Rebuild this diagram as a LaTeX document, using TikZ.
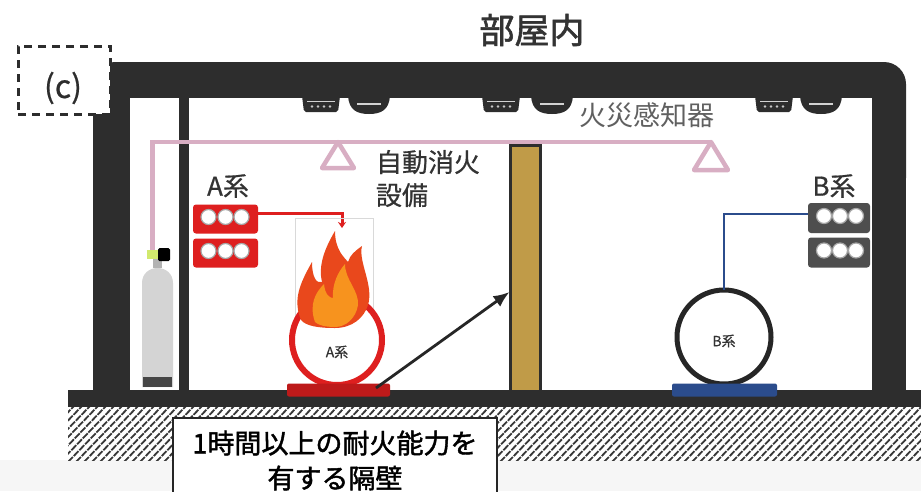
\documentclass[tikz,border=0pt]{standalone}
\usepackage{fontspec}
\newfontfamily\jp{Noto Sans CJK JP}
\newfontfamily\jpb{Noto Sans CJK JP}[FakeBold=1.6]
\newfontfamily\jpm{Noto Sans CJK JP}[FakeBold=0.6]
\usetikzlibrary{arrows.meta,calc}
\newcommand\jfs[1]{\fontsize{#1}{#1}\selectfont}
\definecolor{wallc}{HTML}{2D2D2D}
\definecolor{pinkc}{HTML}{D8AEC3}
\definecolor{goldc}{HTML}{C09B48}
\definecolor{redc}{HTML}{DE1F1F}
\definecolor{bluec}{HTML}{2B4C8C}
\definecolor{flameouter}{HTML}{E9481C}
\definecolor{flameinner}{HTML}{F7931E}
\definecolor{cylc}{HTML}{D4D4D4}
\definecolor{rackb}{HTML}{4E4E4E}
\definecolor{txtc}{HTML}{333333}
\begin{document}
\begin{tikzpicture}[x=1pt,y=-1pt,
  every node/.style={inner sep=0pt,outer sep=0pt},
  racka/.style={rectangle,fill=redc,minimum width=65pt,minimum height=29pt,rounded corners=3pt},
  rackbx/.style={rectangle,fill=rackb,minimum width=62pt,minimum height=30pt,rounded corners=3pt},
  bottle/.style={draw=gray!70,fill=white,line width=1.2pt},
  pipe/.style={pinkc,line width=4.5pt},
  detbody/.style={fill=wallc},
  detline/.style={draw=gray!35,line width=1.3pt},
  lab/.style={font=\jpm\jfs{26},text=txtc},
  small/.style={font=\jpm\jfs{14},text=txtc}]
\useasboundingbox (0,0) rectangle (921,491);

% ground strip and hatched soil
\fill[gray!7] (0,460) rectangle (921,491);
\begin{scope}
  \clip (68,407) rectangle (921,460);
  \foreach \x in {20,28,...,930}
    \draw[black!78,line width=1.8pt,dash pattern=on 7pt off 1.2pt] (\x,462) -- (\x+55,405);
\end{scope}

% building shell
\fill[wallc,rounded corners=22pt] (93,62) rectangle (906,200);
\fill[wallc] (93,120) rectangle (906,392);
\fill[white] (130,98) rectangle (872,390);
\fill[wallc] (68,390) rectangle (921,407);
% inner post beside the cylinder bay
\fill[wallc] (179,98) rectangle (189,392);

% ceiling fire detectors
\foreach \c in {321,501,774}{
  \fill[detbody,rounded corners=2pt] (\c-19,96) -- (\c+19,96) -- (\c+17,112) -- (\c-17,112) -- cycle;
  \draw[detline] (\c-14,101.5) -- (\c+14,101.5);
  \foreach \d in {-9,-3,3,9} \fill[gray!45] (\c+\d,106.5) circle[radius=1.3pt];
}
\foreach \c in {369,552,821}{
  \fill[detbody] (\c-21,96) -- (\c+21,96) .. controls (\c+20,110) and (\c+12,114) .. (\c,114)
     .. controls (\c-12,114) and (\c-20,110) .. (\c-21,96) -- cycle;
  \draw[detline] (\c-12,104) -- (\c+12,104);
}
\node[font=\jp\jfs{27},text=gray!75!black] (detlbl) at (647,115) {火災感知器};

% gas cylinder
\fill[cylc] (142,387) -- (142,283) .. controls (142,273) and (150,268) .. (157.5,268)
   .. controls (165,268) and (173,273) .. (173,283) -- (173,387) -- cycle;
\fill[gray!55!black] (143,377) rectangle (172,387);
\fill[gray!60] (153,258) rectangle (162,268);
\node[fill=yellow!70!green!60,minimum width=11pt,minimum height=9pt] (valve) at (152.5,254.5) {};
\node[fill=black,minimum width=12pt,minimum height=13pt,rounded corners=1.5pt] (valvecap) at (164,254.5) {};

% pink detection / discharge piping with heads
\coordinate (tri1) at (338,142);
\coordinate (tri2) at (711,142);
\draw[pipe] (valve.north) |- (tri2);
\draw[pipe,line join=round] (tri1) -- (354,168) -- (322,168) -- cycle;
\draw[pipe,line join=round] (tri2) -- (728,170) -- (694,170) -- cycle;

% fire-rated partition
\node[draw=wallc,fill=goldc,line width=2.8pt,minimum width=30pt,minimum height=246pt] (gw) at (525.5,268.5) {};
\node[lab,anchor=north west,align=left,font=\jpm\fontsize{26}{33}\selectfont] (autolbl) at (376,150) {自動消火\\設備};

% A system
\node[lab] (alabel) at (228,186) {A系};
\node[racka] (ra1) at (225.5,219) {};
\node[racka] (ra2) at (225.5,253) {};
\foreach \r in {ra1,ra2}
  \foreach \dx in {-17,0,16}
    \draw[bottle] ($(\r)+(\dx,-2)$) circle[radius=7.5pt];
\coordinate (firein) at (342,228);
\draw[redc,line width=3pt,-{Stealth[length=6pt,width=8pt]}] ($(ra1.east)+(0,-6)$) -| (firein);
\draw[gray!30,line width=0.8pt] (295,218) rectangle (373,328);
\node[draw=redc,fill=white,circle,line width=6pt,minimum size=90pt] (ca) at (337,340) {};
\node[small] (catext) at (337,352) {A系};
\node[fill=redc!85!black,minimum width=103pt,minimum height=13pt,rounded corners=2pt] (abase) at (338.5,390) {};
% flame
\fill[flameouter] (301,320) .. controls (293,300) and (299,285) .. (312,262)
  .. controls (312,278) and (317,284) .. (322,282)
  .. controls (318,265) and (325,248) .. (335,231)
  .. controls (335,250) and (344,257) .. (348,262)
  .. controls (350,255) and (355,251) .. (362,246)
  .. controls (358,262) and (374,285) .. (368,305)
  .. controls (364,318) and (352,328) .. (335,328)
  .. controls (318,328) and (306,326) .. (301,320) -- cycle;
\fill[flameinner] (315,322) .. controls (309,305) and (315,293) .. (324,284)
  .. controls (325,295) and (330,298) .. (333,298)
  .. controls (332,284) and (338,272) .. (345,264)
  .. controls (345,280) and (359,290) .. (358,305)
  .. controls (356,318) and (346,327) .. (335,327)
  .. controls (325,327) and (318,325) .. (315,322) -- cycle;

% B system
\node[lab] (blabel) at (834,186) {B系};
\node[rackbx] (rb1) at (839,218) {};
\node[rackbx] (rb2) at (839,252.5) {};
\foreach \r in {rb1,rb2}
  \foreach \dx in {-15,1,17}
    \draw[bottle] ($(\r)+(\dx,-2)$) circle[radius=7.5pt];
\node[draw=gray!30!black,fill=white,circle,line width=5pt,minimum size=94pt] (cb) at (724,337) {};
\draw[bluec,line width=2.5pt] ($(rb1.west)+(0,-4)$) -| (cb.north);
\node[small] (cbtext) at (724,341) {B系};
\node[fill=bluec,minimum width=105pt,minimum height=13pt,rounded corners=2pt] (bbase) at (724.5,390) {};

% pointer to the partition and its caption
\coordinate (arrstart) at (376,388);
\draw[black!85,line width=2.8pt,-{Latex[length=16pt,width=13pt]}] (arrstart) -- ($(gw.west)+(-1,23.5)$);
\node[draw=black!85,fill=white,line width=2.2pt,anchor=north,minimum width=324pt,minimum height=85pt,
  align=center,font=\jpb\fontsize{27}{35}\selectfont,text=black] (caption) at (335,418)
  {1時間以上の耐火能力を\\有する隔壁};

% title and panel tag
\node[font=\jpb\jfs{35},text=txtc] (title) at (532,30) {部屋内};
\node[draw=wallc,fill=white,dashed,dash pattern=on 8pt off 6pt,line width=3pt,
  minimum width=92pt,minimum height=68pt] (cbox) at (64,80) {};
\node[font=\jpm\jfs{32},text=wallc] (ctag) at (63,88) {(c)};
\end{tikzpicture}
\end{document}
